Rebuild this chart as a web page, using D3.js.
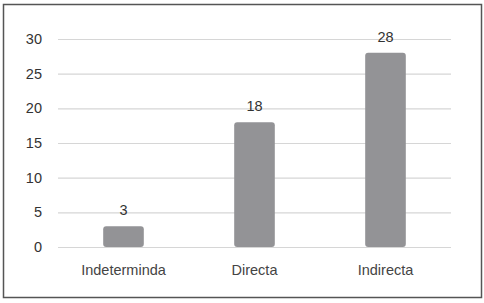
<!DOCTYPE html>
<html>
<head>
<meta charset="utf-8">
<script src="https://cdn.jsdelivr.net/npm/d3@7"></script>
<style>
  body { margin: 0; background: #fff; }
  text { font-family: "Liberation Sans", Arial, sans-serif; }
</style>
</head>
<body>
<div id="wrapper"></div>
<script>
const categories = ["Indeterminda", "Directa", "Indirecta"];
const values = [3, 18, 28];
const yTicks = [0, 5, 10, 15, 20, 25, 30];

const width = 484, height = 303;
const margin = { top: 39, left: 58, right: 33, bottom: 56 };
const boundedWidth = width - margin.left - margin.right;
const boundedHeight = height - margin.top - margin.bottom;

const svg = d3.select("#wrapper").append("svg")
    .attr("width", width)
    .attr("height", height);

// outer frame
svg.append("rect")
    .attr("x", 3.5).attr("y", 4.5)
    .attr("width", 478).attr("height", 293)
    .attr("fill", "#fff")
    .attr("stroke", "#555")
    .attr("stroke-width", 1.5);

const bounded = svg.append("g")
    .attr("transform", `translate(${margin.left},${margin.top})`);

const x = d3.scaleBand()
    .domain(categories)
    .range([0, boundedWidth])
    .paddingInner(0.69)
    .paddingOuter(0.345);

const y = d3.scaleLinear()
    .domain([0, 30])
    .range([boundedHeight, 0]);

// gridlines + y labels
const yAxis = d3.axisLeft(y)
    .tickValues(yTicks)
    .tickSize(-boundedWidth)
    .tickPadding(16);

const yg = bounded.append("g").call(yAxis);
yg.select(".domain").remove();
yg.selectAll(".tick line").attr("stroke", "#d6d6d6").attr("stroke-width", 1.2);
yg.selectAll(".tick text")
    .attr("fill", "#333")
    .style("font-size", "14.5px");

// bars
bounded.selectAll(".bar")
    .data(values)
    .join("rect")
    .attr("class", "bar")
    .attr("x", (d, i) => x(categories[i]))
    .attr("y", d => y(d))
    .attr("width", x.bandwidth())
    .attr("height", d => boundedHeight - y(d))
    .attr("rx", 3)
    .attr("fill", "#939396");

// value labels
bounded.selectAll(".val")
    .data(values)
    .join("text")
    .attr("class", "val")
    .attr("x", (d, i) => x(categories[i]) + x.bandwidth() / 2)
    .attr("y", d => y(d) - 11)
    .attr("text-anchor", "middle")
    .attr("fill", "#333")
    .style("font-size", "14.5px")
    .text(d => d);

// x axis labels
const xAxis = d3.axisBottom(x).tickSize(0).tickPadding(18);
const xg = bounded.append("g")
    .attr("transform", `translate(0,${boundedHeight})`)
    .call(xAxis);
xg.select(".domain").remove();
xg.selectAll(".tick text")
    .attr("fill", "#444")
    .style("font-size", "14.5px");
</script>
</body>
</html>
